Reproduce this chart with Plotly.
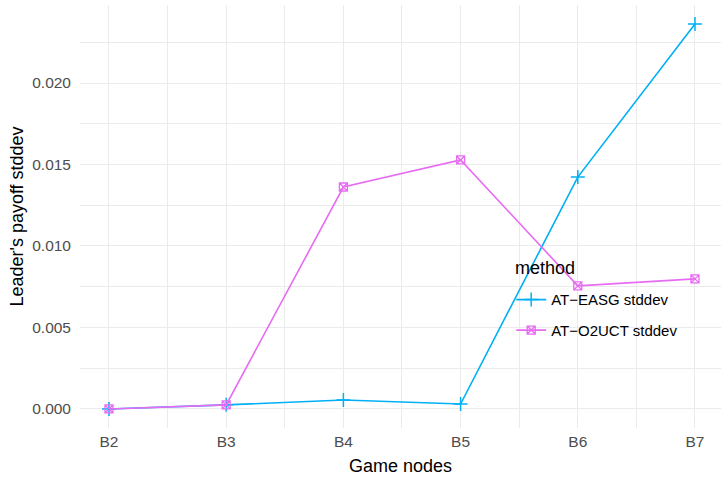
import plotly.graph_objects as go

nodes = [2, 3, 4, 5, 6, 7]
node_labels = ["B2", "B3", "B4", "B5", "B6", "B7"]
easg = [0.0, 0.00025, 0.00055, 0.0003, 0.01423, 0.02362]
o2uct = [0.0, 0.00025, 0.01362, 0.01528, 0.00755, 0.00798]
series_names = ["AT\u2212EASG stddev", "AT\u2212O2UCT stddev"]
colors = ["#00B0F6", "#E76BF3"]

fig = go.Figure()
fig.add_trace(go.Scatter(
    x=nodes, y=easg, mode="lines+markers", name=series_names[0],
    legendgroup="a",
    line=dict(color=colors[0], width=1.6),
    marker=dict(symbol="cross-thin-open", size=10, color=colors[0],
                line=dict(color=colors[0], width=1.5)),
))
fig.add_trace(go.Scatter(
    x=nodes, y=o2uct, mode="lines+markers", name=series_names[1],
    legendgroup="b",
    line=dict(color=colors[1], width=1.6),
    marker=dict(symbol="square-x-open", size=8, color=colors[1],
                line=dict(color=colors[1], width=1.3)),
))

fig.update_layout(
    width=721, height=480,
    margin=dict(l=80, r=0, t=5, b=52),
    paper_bgcolor="white", plot_bgcolor="white",
    font=dict(family="Liberation Sans, Arial, sans-serif", color="black"),
    legend=dict(
        font=dict(size=15, color="black"),
        x=0.6727, y=0.342, xanchor="left", yanchor="top",
        bgcolor="rgba(0,0,0,0)",
        tracegroupgap=8,
    ),
    annotations=[dict(
        text="method", xref="paper", yref="paper",
        x=(513 - 80) / 641, y=(428 - 268) / 423,
        xanchor="left", yanchor="middle", showarrow=False,
        font=dict(size=18, color="black"),
    )],
    xaxis=dict(
        range=[1.7526, 7.222],
        tickvals=nodes, ticktext=node_labels,
        tickfont=dict(size=15.5, color="#4d4d4d"),
        title=dict(text="Game nodes", font=dict(size=18, color="black"), standoff=10),
        showgrid=True, gridcolor="#ebebeb", gridwidth=1.1,
        minor=dict(dtick=0.5, tick0=1.5, showgrid=True, gridcolor="#ebebeb", gridwidth=0.6),
        zeroline=False, showline=False, ticks="",
        ticklabelstandoff=2,
    ),
    yaxis=dict(
        range=[-0.00117, 0.02479],
        tickmode="linear", tick0=0, dtick=0.005, tickformat=".3f",
        tickfont=dict(size=15.5, color="#4d4d4d"),
        title=dict(text="Leader's payoff stddev", font=dict(size=18, color="black"), standoff=3),
        showgrid=True, gridcolor="#ebebeb", gridwidth=1.1,
        minor=dict(dtick=0.0025, tick0=0, showgrid=True, gridcolor="#ebebeb", gridwidth=0.6),
        zeroline=False, showline=False, ticks="",
        ticklabelstandoff=8,
    ),
)

fig.write_html("out.html", config={"displayModeBar": False},
               post_script="document.body.style.margin='0';")
